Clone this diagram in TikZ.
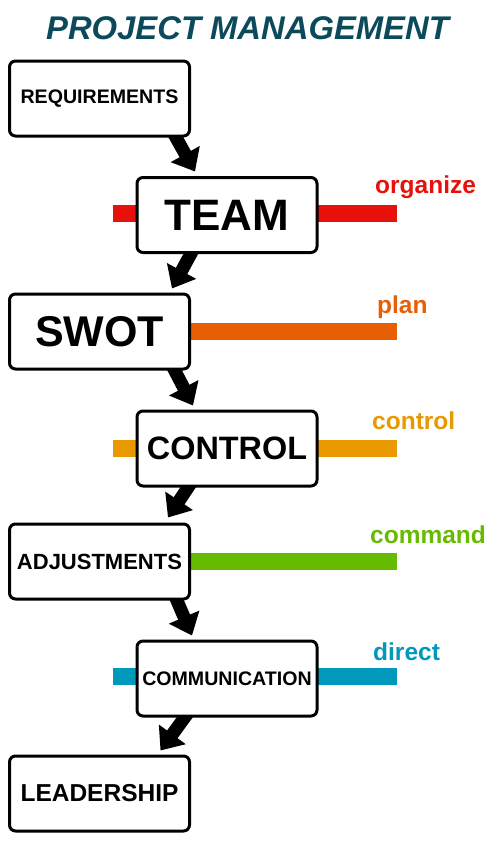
\documentclass[tikz,border=0pt]{standalone}
\usepackage{fontspec}
\setmainfont{Liberation Sans}
\usetikzlibrary{arrows.meta,calc}
\pgfdeclarelayer{background}
\pgfsetlayers{background,main}
\definecolor{cRed}{RGB}{232,16,10}
\definecolor{cOrange}{RGB}{232,94,5}
\definecolor{cAmber}{RGB}{232,153,0}
\definecolor{cGreen}{RGB}{102,187,0}
\definecolor{cBlue}{RGB}{0,153,187}
\definecolor{cTitle}{RGB}{11,74,90}
\tikzset{
  box/.style={draw=black, line width=3pt, rounded corners=6pt, fill=white,
    minimum width=180pt, minimum height=75pt, inner sep=0pt, font=\bfseries},
  bigarrow/.style={line width=13pt, -{Triangle[length=20pt,width=32pt]}},
  bar/.style={line width=17pt, draw=#1},
  lbl/.style={anchor=base west, inner sep=0pt, font=\bfseries\fontsize{24.5}{26}\selectfont, text=#1},
}
\begin{document}
\begin{tikzpicture}[x=1pt,y=-1pt]
\useasboundingbox (0,0) rectangle (500,854);
\node[anchor=base, inner sep=0pt, text=cTitle, font=\bfseries\itshape\fontsize{32.8}{35}\selectfont] (title) at (247.5,39) {PROJECT MANAGEMENT};

\node[box, font=\bfseries\fontsize{19.6}{22}\selectfont] (req) at (99.5,98.5) {REQUIREMENTS};
\node[box, font=\bfseries\fontsize{44}{48}\selectfont] (team) at (227,215) {TEAM};
\node[box, font=\bfseries\fontsize{43}{48}\selectfont] (swot) at (99.5,331.5) {SWOT};
\node[box, font=\bfseries\fontsize{32.4}{36}\selectfont] (control) at (227,448.5) {CONTROL};
\node[box, font=\bfseries\fontsize{22}{24}\selectfont] (adj) at (99.5,561.5) {ADJUSTMENTS};
\node[box, font=\bfseries\fontsize{19.6}{22}\selectfont] (comm) at (227,678.5) {COMMUNICATION};
\node[box, font=\bfseries\fontsize{24.5}{26}\selectfont] (lead) at (99.5,793.5) {LEADERSHIP};

\coordinate (barend) at (397,0);

\begin{pgfonlayer}{background}
  \draw[bar=cRed] (113,213.5) -- (barend |- 0,213.5);
  \draw[bar=cOrange] (swot.center |- 0,331.5) -- (barend |- 0,331.5);
  \draw[bar=cAmber] (113,448.5) -- (barend |- 0,448.5);
  \draw[bar=cGreen] (adj.center |- 0,561) -- (barend |- 0,561);
  \draw[bar=cBlue] (113,676) -- (barend |- 0,676);

  \draw[bigarrow] ($(req.south)+(72,-8)$) -- ($(team.north)+(-32,-4.5)$);
  \draw[bigarrow] ($(team.south)+(-33,-6)$) -- ($(swot.north)+(72.5,-4)$);
  \draw[bigarrow] ($(swot.south)+(71,-8)$) -- ($(control.north)+(-34,-4)$);
  \draw[bigarrow] ($(control.south)+(-35,-6)$) -- ($(adj.north)+(68.5,-5)$);
  \draw[bigarrow] ($(adj.south)+(74,-8)$) -- ($(comm.north)+(-35,-4)$);
  \draw[bigarrow] ($(comm.south)+(-38,-6)$) -- ($(lead.north)+(61,-4)$);
\end{pgfonlayer}

\node[lbl=cRed] (l1) at (375,193) {organize};
\node[lbl=cOrange] (l2) at (377,313) {plan};
\node[lbl=cAmber] (l3) at (372,429) {control};
\node[lbl=cGreen] (l4) at (370,543) {command};
\node[lbl=cBlue] (l5) at (373,660) {direct};
\end{tikzpicture}
\end{document}
